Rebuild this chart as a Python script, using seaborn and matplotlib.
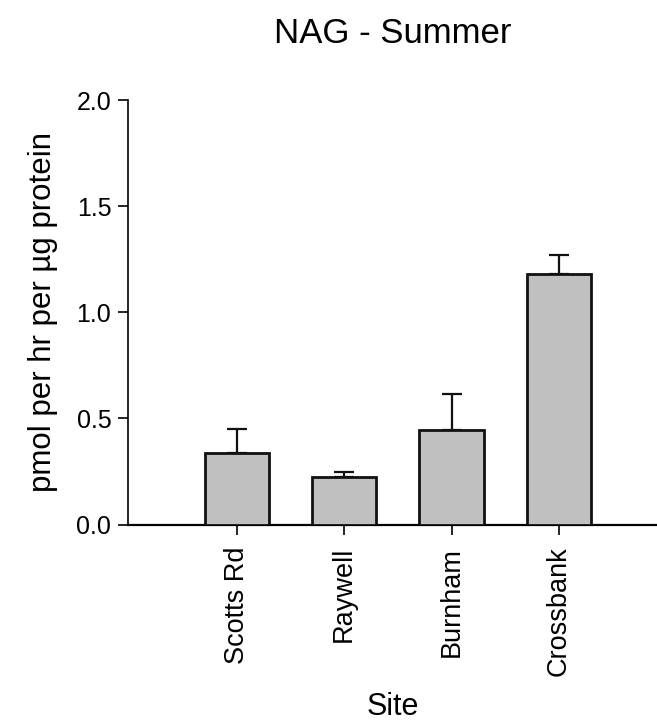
import numpy as np
import pandas as pd
import matplotlib
matplotlib.use("Agg")
import matplotlib.pyplot as plt
import seaborn as sns

# NAG activity by site, summer sampling (mean and upper SEM)
sites = ["Scotts Rd", "Raywell", "Burnham", "Crossbank"]
means = [0.338, 0.223, 0.443, 1.181]
errors = [0.112, 0.024, 0.170, 0.091]
y_ticks = [0.0, 0.5, 1.0, 1.5, 2.0]

sns.set_style("ticks")
plt.rcParams["font.family"] = ["Liberation Sans", "DejaVu Sans"]
plt.rcParams["text.color"] = "black"
plt.rcParams["axes.labelcolor"] = "black"

df = pd.DataFrame({"Site": sites, "NAG": means, "err": errors})

fig = plt.figure(figsize=(6.57, 7.24), dpi=100)
ax = fig.add_axes([128 / 657, (724 - 524.5) / 724, (657 - 128) / 657, 424.5 / 724])

sns.barplot(data=df, x="Site", y="NAG", color="#c0c0c0", saturation=1,
            width=0.6, edgecolor="#111111", linewidth=2.0, ax=ax, zorder=3)

xpos = np.arange(len(sites))
ax.errorbar(xpos, df["NAG"], yerr=[np.zeros(len(sites)), df["err"]],
            fmt="none", ecolor="#111111", elinewidth=1.6, capsize=7,
            capthick=1.6, zorder=2)

ax.set_xlim(-1.015, 3.915)
ax.set_ylim(0, 2.0)
ax.set_yticks(y_ticks)
ax.set_yticklabels([f"{t:.1f}" for t in y_ticks])

ax.spines["top"].set_visible(False)
ax.spines["right"].set_visible(False)
ax.spines["left"].set_linewidth(1.2)
ax.spines["bottom"].set_linewidth(1.6)
for s in ax.spines.values():
    s.set_color("#000000")

ax.tick_params(axis="both", direction="out", length=7, width=1.2,
               colors="#000000")
ax.tick_params(axis="x", labelrotation=90, pad=9, labelsize=19.5)
ax.tick_params(axis="y", pad=5, labelsize=18)

ax.set_xlabel("Site", fontsize=22, labelpad=11)
ax.set_ylabel("pmol per hr per µg protein", fontsize=22.5, labelpad=13)
ax.set_title("NAG - Summer", fontsize=25, pad=41)

fig.savefig("out.png", dpi=100)
